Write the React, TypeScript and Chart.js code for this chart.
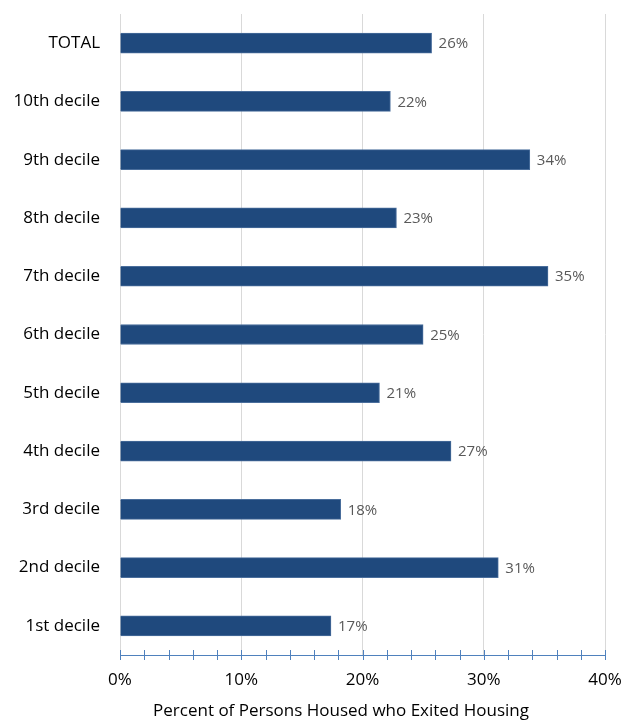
import React, { useEffect, useRef } from "react";
import { Chart, registerables } from "chart.js";

Chart.register(...registerables);

const categories = [
  "TOTAL",
  "10th decile",
  "9th decile",
  "8th decile",
  "7th decile",
  "6th decile",
  "5th decile",
  "4th decile",
  "3rd decile",
  "2nd decile",
  "1st decile",
];
const exitedPct = [25.7, 22.3, 33.8, 22.8, 35.3, 25.0, 21.4, 27.3, 18.2, 31.2, 17.4];
const xMin = 0;
const xMax = 40;
const xMinorStep = 2;
const xMajorStep = 10;
const xTitle = "Percent of Persons Housed who Exited Housing";

const FONT = "'Open Sans', 'Noto Sans', sans-serif";

const valueLabels = {
  id: "valueLabels",
  afterDatasetsDraw(chart: any) {
    const ctx = chart.ctx;
    const meta = chart.getDatasetMeta(0);
    ctx.save();
    ctx.fillStyle = "#595959";
    ctx.font = `15px ${FONT}`;
    ctx.textAlign = "left";
    ctx.textBaseline = "middle";
    meta.data.forEach((bar: any, i: number) => {
      ctx.fillText(Math.round(exitedPct[i]) + "%", bar.x + 7, bar.y + 1);
    });
    ctx.restore();
  },
};

const axisDecor = {
  id: "axisDecor",
  afterDraw(chart: any) {
    const ctx = chart.ctx;
    const xs = chart.scales.x;
    const area = chart.chartArea;
    const y = area.bottom;
    ctx.save();
    ctx.strokeStyle = "#4F81BD";
    ctx.lineWidth = 1;
    ctx.beginPath();
    ctx.moveTo(area.left, y + 0.5);
    ctx.lineTo(area.right, y + 0.5);
    for (let v = xMin; v <= xMax; v += xMinorStep) {
      const px = Math.round(xs.getPixelForValue(v)) + 0.5;
      ctx.moveTo(px, y - 5);
      ctx.lineTo(px, y + 5);
    }
    ctx.stroke();
    ctx.fillStyle = "#000";
    ctx.font = `17px ${FONT}`;
    ctx.textAlign = "center";
    ctx.textBaseline = "middle";
    ctx.fillText(xTitle, 341, 711);
    ctx.restore();
  },
};

function zeroPad(scale: any) {
  scale.paddingTop = 0;
  scale.paddingBottom = 0;
  scale.paddingLeft = 0;
  scale.paddingRight = 0;
}

export default function App() {
  const ref = useRef<HTMLCanvasElement>(null);
  useEffect(() => {
    if (!ref.current) return;
    const chart = new Chart(ref.current, {
      type: "bar",
      data: {
        labels: categories,
        datasets: [
          {
            data: exitedPct,
            backgroundColor: "#1F497D",
            borderColor: "#4A6E9C",
            borderWidth: 1,
            barThickness: 20,
          },
        ],
      },
      options: {
        indexAxis: "y",
        animation: false,
        responsive: false,
        layout: { padding: { top: 14, right: 20, left: 0, bottom: 0 } },
        plugins: { legend: { display: false }, tooltip: { enabled: false } },
        scales: {
          x: {
            min: xMin,
            max: xMax,
            afterFit(scale: any) {
              scale.height = 66;
              zeroPad(scale);
            },
            ticks: {
              stepSize: xMinorStep,
              autoSkip: false,
              maxRotation: 0,
              padding: 15,
              color: "#000",
              font: { family: FONT, size: 17 },
              callback: (v: any) => (Number(v) % xMajorStep === 0 ? v + "%" : ""),
            },
            grid: {
              drawTicks: false,
              color: (c: any) =>
                c.tick && c.tick.value % xMajorStep === 0 && c.tick.value !== 0 ? "#D9D9D9" : "rgba(0,0,0,0)",
            },
            border: { display: false },
          },
          y: {
            afterFit(scale: any) {
              scale.width = 120;
              zeroPad(scale);
            },
            ticks: {
              padding: 20,
              color: "#000",
              font: { family: FONT, size: 17 },
            },
            grid: { display: false, drawTicks: false },
            border: { display: true, color: "#D9D9D9", width: 1 },
          },
        },
      },
      plugins: [valueLabels, axisDecor],
    });
    return () => chart.destroy();
  }, []);
  return (
    <div style={{ position: "fixed", left: 0, top: 0, width: 625, height: 721, background: "#fff" }}>
      <canvas ref={ref} width={625} height={721} style={{ display: "block" }} />
    </div>
  );
}
